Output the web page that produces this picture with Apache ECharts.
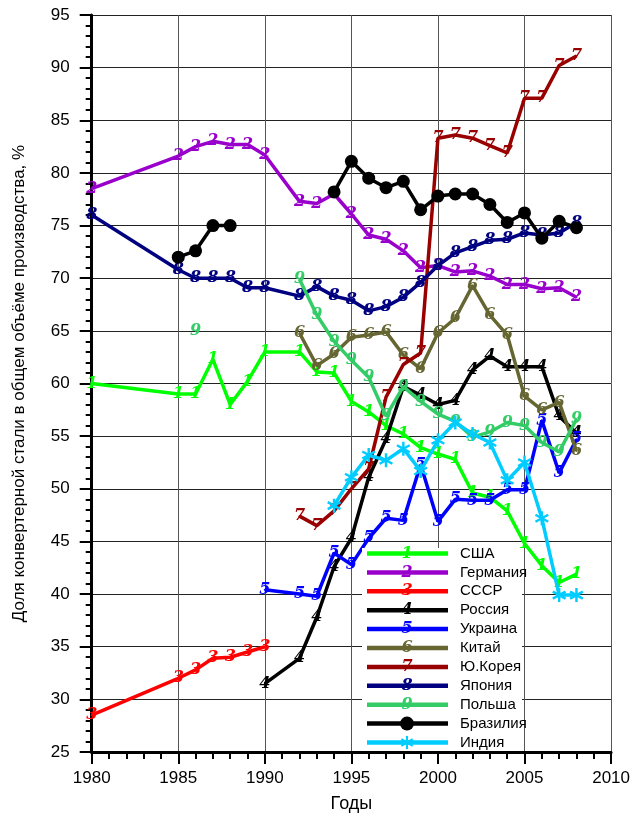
<!DOCTYPE html>
<html><head><meta charset="utf-8">
<script src="https://cdn.jsdelivr.net/npm/echarts@6/dist/echarts.min.js"></script>
<style>html,body{margin:0;padding:0;background:#fff}#c{width:633px;height:818px}</style>
</head><body><div id="c"></div>
<script>
// ---- data ----
const seriesNames = ['США','Германия','СССР','Россия','Украина','Китай','Ю.Корея','Япония','Польша','Бразилия','Индия'];
const markerDigits = ['1','2','3','4','5','6','7','8','9',null,null];

const usaYears = [1980,1985,1986,1987,1988,1989,1990,1992,1993,1994,1995,1996,1997,1998,1999,2000,2001,2002,2003,2004,2005,2006,2007,2008];
const usaValues = [60,59,59,62.3,58,60.2,63,63,61.1,61,58.3,57.3,56,55.2,53.9,53.3,52.8,49.6,49.2,47.9,44.8,42.7,41.1,41.9];

const germanyYears = [1980,1985,1986,1987,1988,1989,1990,1992,1993,1994,1995,1996,1997,1998,1999,2000,2001,2002,2003,2004,2005,2006,2007,2008];
const germanyValues = [78.5,81.6,82.5,83,82.7,82.7,81.7,77.3,77.1,78,76.1,74.1,73.7,72.6,71,71.2,70.6,70.7,70.2,69.4,69.4,69,69.1,68.2];

const ussrYears = [1980,1985,1986,1987,1988,1989,1990];
const ussrValues = [28.5,32,32.8,33.9,34,34.5,35];

const russiaYears = [1990,1992,1993,1994,1995,1996,1997,1998,1999,2000,2001,2002,2003,2004,2005,2006,2007,2008];
const russiaValues = [31.5,33.9,37.8,42.6,45.3,51.1,54.7,59.7,58.9,58,58.4,61.3,62.6,61.6,61.6,61.6,56.9,55.3];

const ukraineYears = [1990,1992,1993,1994,1995,1996,1997,1998,1999,2000,2001,2002,2003,2004,2005,2006,2007,2008];
const ukraineValues = [40.4,40,39.8,43.9,42.8,45.3,47.2,47,52.3,46.9,49,48.9,48.9,49.9,49.9,56.5,51.5,54.7];

const chinaYears = [1992,1993,1994,1995,1996,1997,1998,1999,2000,2001,2002,2003,2004,2005,2006,2007,2008];
const chinaValues = [64.8,61.7,62.8,64.4,64.6,64.9,62.7,61.4,64.8,66.2,69.3,66.5,64.6,58.8,57.5,58.2,53.6];

const koreaYears = [1992,1993,1994,1995,1996,1997,1998,1999,2000,2001,2002,2003,2004,2005,2006,2007,2008];
const koreaValues = [47.4,46.5,47.9,50,51.9,58.7,61.8,62.9,83.3,83.6,83.3,82.6,81.9,87.1,87.1,90.2,91.1];

const japanYears = [1980,1985,1986,1987,1988,1989,1990,1992,1993,1994,1995,1996,1997,1998,1999,2000,2001,2002,2003,2004,2005,2006,2007,2008];
const japanValues = [76,70.8,70,70,70,69.1,69.1,68.3,69.2,68.3,67.9,66.9,67.3,68.2,69.6,71.2,72.4,73,73.6,73.7,74.3,74.1,74.3,75.3];

const polandYears = [1986,1990,1992,1993,1994,1995,1996,1997,1998,1999,2000,2001,2002,2003,2004,2005,2006,2007,2008];
const polandValues = [65,null,69.9,66.5,64,62.2,60.6,56.9,59.7,58.3,57.1,56.4,54.9,55.4,56.3,56,54.4,53.5,56.6];

const brazilYears = [1985,1986,1987,1988,1990,1994,1995,1996,1997,1998,1999,2000,2001,2002,2003,2004,2005,2006,2007,2008];
const brazilValues = [72,72.6,75,75,null,78.2,81.1,79.5,78.6,79.2,76.5,77.8,78,78,77,75.3,76.2,73.8,75.4,74.8];

const indiaYears = [1994,1995,1996,1997,1998,1999,2000,2001,2002,2003,2004,2005,2006,2007,2008];
const indiaValues = [48.4,51.1,53.2,52.7,53.8,51.7,54.6,56.3,55.2,54.4,50.8,52.5,47.2,39.9,39.9];

const xTicks = {min:1980, max:2010, interval:5};
const yTicks = {min:25, max:95, interval:5};

// ---- styles ----
const colors = ['#00FF00','#9900CC','#FF0000','#000000','#0000FF','#666633','#990000','#000080','#33CC66','#000000','#00CCFF'];
const ASTER = 'path://M-1,-6L-1,6L1,6L1,-6Z M4.696,3.866L5.696,2.134L-4.696,-3.866L-5.696,-2.134Z M-5.696,2.134L-4.696,3.866L5.696,-2.134L4.696,-3.866Z';
const asterPolys = [
  [[-1,-6],[-1,6],[1,6],[1,-6]],
  [[4.696,3.866],[5.696,2.134],[-4.696,-3.866],[-5.696,-2.134]],
  [[-5.696,2.134],[-4.696,3.866],[5.696,-2.134],[4.696,-3.866]]
];
const digitFont = {fontFamily:'DejaVu Serif', fontStyle:'italic', fontWeight:'bold', fontSize:16};

const allYears = [usaYears,germanyYears,ussrYears,russiaYears,ukraineYears,chinaYears,koreaYears,japanYears,polandYears,brazilYears,indiaYears];
const allValues = [usaValues,germanyValues,ussrValues,russiaValues,ukraineValues,chinaValues,koreaValues,japanValues,polandValues,brazilValues,indiaValues];

function pairs(ys, vs){ return ys.map((y,i)=>[y, vs[i]===null ? '-' : vs[i]]); }

const series = seriesNames.map((name,i)=>{
  const s = {
    name, type:'line', data: pairs(allYears[i], allValues[i]),
    connectNulls:false, animation:false,
    lineStyle:{color:colors[i], width:3.5},
    itemStyle:{color:colors[i]},
    emphasis:{disabled:true},
    z: 2 + i
  };
  if (markerDigits[i]) {
    s.symbol = 'circle'; s.symbolSize = 2;
    s.label = Object.assign({show:true, position:'inside', color:colors[i], formatter: markerDigits[i]}, digitFont);
  } else if (name === 'Бразилия') {
    s.symbol = 'circle'; s.symbolSize = 13;
  } else {
    s.symbol = ASTER; s.symbolSize = 14;
  }
  return s;
});

// legend built with graphic elements
const legX0 = 362, legY0 = 548, rowH = 18.9;
const graphics = [{type:'rect', shape:{x:legX0, y:legY0, width:160, height:203}, style:{fill:'#fff'}, z:100}];
seriesNames.forEach((name,i)=>{
  const cy = legY0 + 5.5 + rowH*i;
  graphics.push({type:'line', shape:{x1:367, y1:cy, x2:448, y2:cy}, style:{stroke:colors[i], lineWidth:4.5}, z:101});
  if (markerDigits[i]) {
    graphics.push({type:'text', x:407, y:cy, style:Object.assign({text:markerDigits[i], fill:colors[i], align:'center', verticalAlign:'middle'}, digitFont), z:102});
  } else if (name === 'Бразилия') {
    graphics.push({type:'circle', shape:{cx:407, cy:cy, r:7}, style:{fill:colors[i]}, z:102});
  } else {
    asterPolys.forEach(poly=>{
      graphics.push({type:'polygon', shape:{points: poly.map(p=>[407 + p[0]*1.1, cy + p[1]*1.1])}, style:{fill:colors[i]}, z:102});
    });
  }
  graphics.push({type:'text', x:460, y:cy, style:{text:name, fill:'#000', fontFamily:'Liberation Sans', fontSize:15, align:'left', verticalAlign:'middle'}, z:102});
});

const chart = echarts.init(document.getElementById('c'), null, {renderer:'canvas'});
chart.setOption({
  backgroundColor:'#fff',
  animation:false,
  grid:{left:91.7, right:20, top:15, bottom:58.7, containLabel:false},
  xAxis:{
    type:'value', min:xTicks.min, max:xTicks.max, interval:xTicks.interval,
    name:'Годы', nameLocation:'middle', nameGap:43,
    nameTextStyle:{fontFamily:'Liberation Sans', fontSize:18, color:'#000'},
    axisLine:{show:true, onZero:false, lineStyle:{color:'#000', width:3}},
    axisTick:{show:true, inside:false, length:12, lineStyle:{color:'#000', width:2}},
    minorTick:{show:true, splitNumber:5, length:7, lineStyle:{color:'#000', width:2}},
    axisLabel:{margin:18, fontFamily:'Liberation Sans', fontSize:17, color:'#000', formatter:v=>String(v)},
    splitLine:{show:true, lineStyle:{color:'#555', width:1}}
  },
  yAxis:{
    type:'value', min:yTicks.min, max:yTicks.max, interval:yTicks.interval,
    name:'Доля конвертерной стали в общем объёме производства, %', nameLocation:'middle', nameGap:64, nameRotate:90,
    nameTextStyle:{fontFamily:'Liberation Sans', fontSize:17, color:'#000'},
    axisLine:{show:true, onZero:false, lineStyle:{color:'#000', width:3}},
    axisTick:{show:true, inside:false, length:12, lineStyle:{color:'#000', width:2}},
    minorTick:{show:true, splitNumber:5, length:6, lineStyle:{color:'#000', width:2}},
    axisLabel:{margin:22, fontFamily:'Liberation Sans', fontSize:17, color:'#000'},
    splitLine:{show:true, lineStyle:{color:'#222', width:1}}
  },
  series,
  graphic: graphics
});
</script></body></html>
